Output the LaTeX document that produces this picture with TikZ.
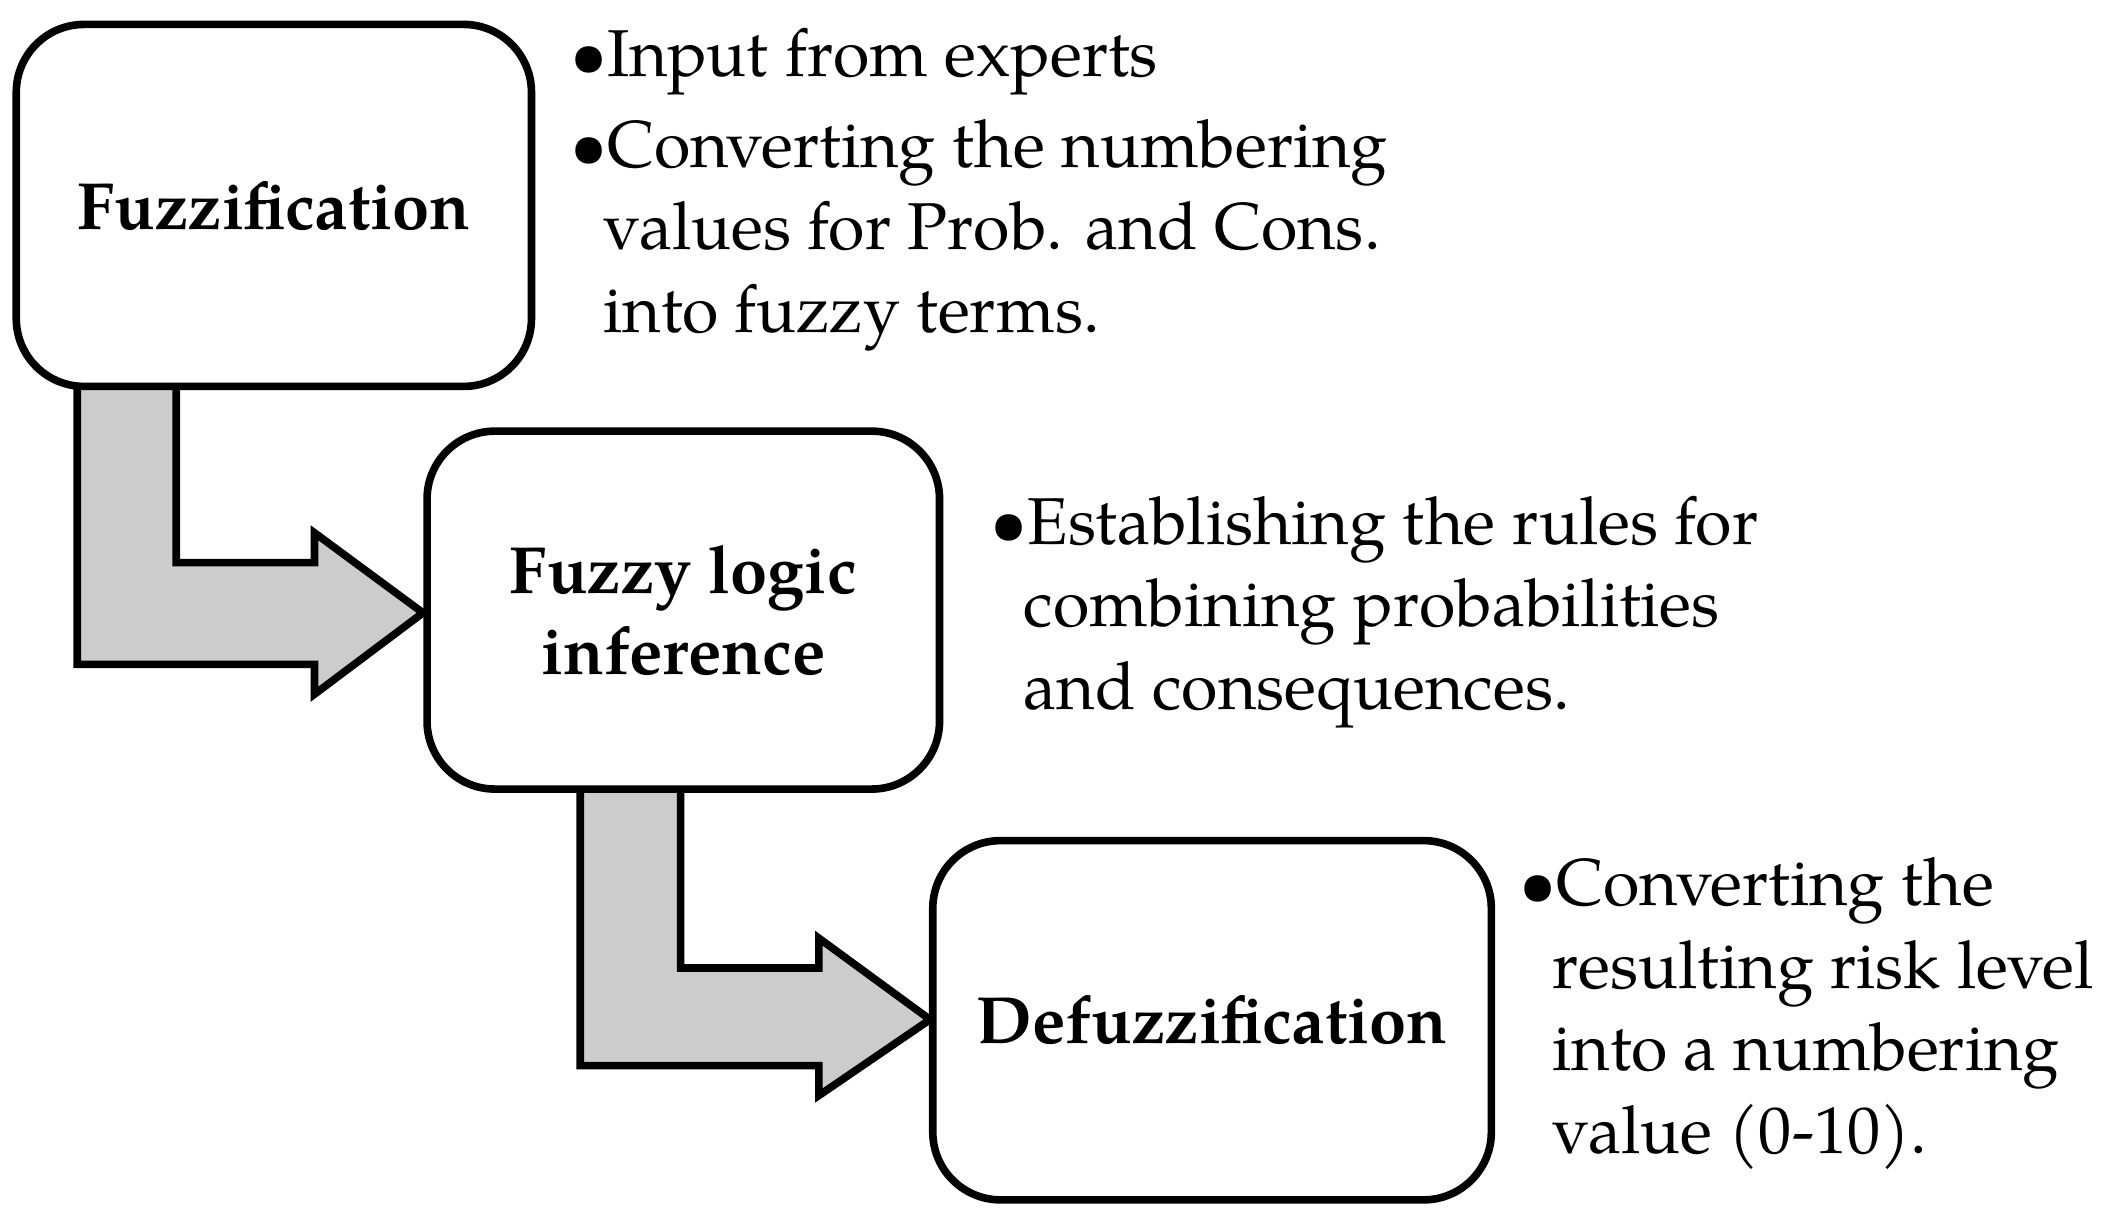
\documentclass[tikz,border=0pt]{standalone}
\usepackage{fontspec}
\setmainfont{TeX Gyre Pagella}
\begin{document}
\begin{tikzpicture}[x=0.01cm,y=-0.01cm,
  box/.style={draw,line width=1.6pt,rounded corners=0.5cm},
  arr/.style={draw,line width=1.6pt,fill=black!20,line join=miter},
  lab/.style={font=\fontsize{14}{17}\selectfont\bfseries,align=center},
  txt/.style={font=\fontsize{13.9}{17.3}\selectfont,align=left,anchor=north west,inner sep=0pt}]
\useasboundingbox (0,0) rectangle (1560,902);
\fill[white] (0,0) rectangle (1560,902);
\draw[arr] (57,280)--(130,280)--(130,415)--(232,415)--(232,393)--(312,452)--(232,512)--(232,490)--(57,490)--cycle;
\draw[arr] (428,578)--(502,578)--(502,714)--(604,714)--(604,692)--(686,752)--(604,808)--(604,786)--(428,786)--cycle;
\draw[box,fill=white] (12,18) rectangle (392,285);
\draw[box,fill=white] (315,318) rectangle (693,582);
\draw[box,fill=white] (688,620) rectangle (1100,885);
\node[lab] (f) at (202,152) {Fuzzification};
\node[lab] (i) at (504,450) {Fuzzy logic\\inference};
\node[lab] (d) at (894,752) {Defuzzification};
\node[txt] (b1) at (420,20) {\textbullet Input from experts};
\node[txt] (b2) at (420,87) {\textbullet Converting the numbering\\\hspace*{0.5em}values for Prob. and Cons.\\\hspace*{0.5em}into fuzzy terms.};
\node[txt] (b3) at (730,365) {\textbullet Establishing the rules for\\\hspace*{0.5em}combining probabilities\\\hspace*{0.5em}and consequences.};
\node[txt] (b4) at (1120,632) {\textbullet Converting the\\\hspace*{0.5em}resulting risk level\\\hspace*{0.5em}into a numbering\\\hspace*{0.5em}value (0-10).};
\end{tikzpicture}
\end{document}
